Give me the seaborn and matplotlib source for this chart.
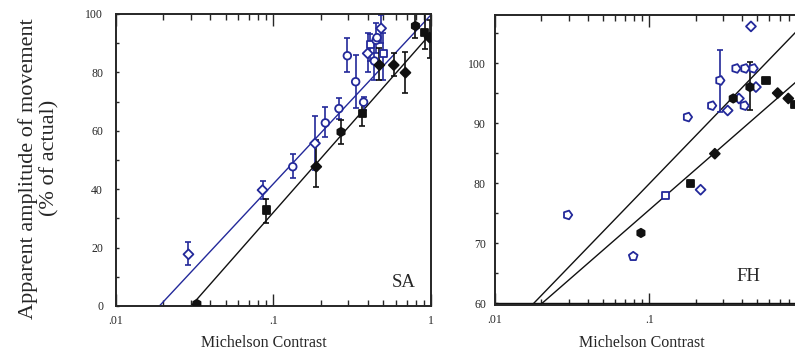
import numpy as np
import pandas as pd
import matplotlib
matplotlib.use("Agg")
import matplotlib.pyplot as plt
from matplotlib.markers import MarkerStyle
from matplotlib.transforms import Affine2D
from matplotlib.ticker import FixedLocator, FuncFormatter, MultipleLocator
import seaborn as sns

# ─── Data: SA panel ───────────────────────────────────────────────────────────
sa_open_x = [0.029, 0.0855, 0.133, 0.184, 0.214, 0.261, 0.295, 0.333, 0.374,
             0.397, 0.413, 0.438, 0.449, 0.455, 0.483, 0.498]
sa_open_y = [17.7, 39.7, 47.7, 55.7, 62.7, 67.6, 85.7, 76.8, 69.8,
             86.5, 89.6, 83.9, 91.0, 91.9, 95.1, 86.5]
sa_open_top = [22.0, 42.8, 52.0, 65.0, 68.0, 71.3, 91.9, 85.9, 71.7,
               93.6, 93.0, 90.5, 96.8, np.nan, 99.7, 93.5]
sa_open_bot = [14.0, 36.5, 44.0, 46.6, 58.0, 64.0, 80.2, 67.9, 67.0,
               80.2, 84.0, 77.4, 86.5, np.nan, 90.0, 77.4]
sa_open_shape = ["diamond", "diamond", "circle", "diamond", "circle", "circle",
                 "circle", "circle", "circle", "diamond", "square", "circle",
                 "circle", "circle", "diamond", "square"]

sa_fill_x = [0.0328, 0.0904, 0.1875, 0.269, 0.366, 0.471, 0.581, 0.689,
             0.797, 0.91, 0.98]
sa_fill_y = [0.7, 32.9, 47.7, 59.6, 65.8, 82.5, 82.5, 79.9, 95.9, 93.7, 91.9]
sa_fill_top = [np.nan, 36.6, 56.8, 63.7, 69.4, 88.3, 86.5, 87.1, 100.0, 100.0, 98.0]
sa_fill_bot = [np.nan, 28.5, 40.9, 55.5, 61.6, 77.4, 78.8, 72.8, 91.8, 87.9, 84.8]
sa_fill_shape = ["hexagon", "square", "diamond", "hexagon", "square", "diamond",
                 "diamond", "diamond", "hexagon", "square", "diamond"]

# fitted lines: y = intercept + slope * log10(contrast)
sa_open_fit = (99.7, 57.9)
sa_fill_fit = (93.4, 61.4)

# ─── Data: FH panel ───────────────────────────────────────────────────────────
fh_open_x = [0.0296, 0.0787, 0.1276, 0.177, 0.215, 0.254, 0.287, 0.322,
             0.365, 0.381, 0.417, 0.413, 0.456, 0.472, 0.491]
fh_open_y = [74.7, 67.8, 77.9, 91.0, 78.9, 92.9, 97.1, 92.1,
             99.1, 94.1, 99.1, 92.9, 106.1, 99.1, 96.0]
fh_open_top = [np.nan] * 6 + [102.2] + [np.nan] * 8
fh_open_bot = [np.nan] * 6 + [91.9] + [np.nan] * 8
fh_open_shape = ["house", "house_up", "square", "house", "diamond", "house",
                 "house", "diamond", "house", "diamond", "house", "house",
                 "diamond", "house", "diamond"]

fh_fill_x = [0.0883, 0.186, 0.266, 0.35, 0.449, 0.570, 0.679, 0.796, 0.879]
fh_fill_y = [71.7, 80.0, 84.9, 94.1, 96.0, 97.1, 95.0, 94.1, 93.1]
fh_fill_top = [np.nan] * 4 + [100.1] + [np.nan] * 4
fh_fill_bot = [np.nan] * 4 + [92.1] + [np.nan] * 4
fh_fill_shape = ["hexagon", "square", "diamond", "hexagon", "hexagon",
                 "square", "diamond", "diamond", "square"]

fh_fit_upper = (106.5, 26.6)
fh_fit_lower = (97.95, 22.4)

# ─── Style ────────────────────────────────────────────────────────────────────
BLUE = "#23299a"
BLACK = "#111111"
sns.set_style("ticks")
plt.rcParams["font.family"] = ["Liberation Serif", "DejaVu Serif"]

MARKERS = {
    "circle": "o",
    "square": MarkerStyle("s", transform=Affine2D().scale(0.95)),
    "diamond": MarkerStyle("D", transform=Affine2D().scale(0.92)),
    "hexagon": MarkerStyle("h", transform=Affine2D().scale(1.1)),
    "house": MarkerStyle("p", transform=Affine2D().rotate_deg(-90).scale(1.2)),
    "house_up": MarkerStyle("p", transform=Affine2D().scale(1.2)),
}


def draw_series(ax, x, y, top, bot, shape, color, filled):
    df = pd.DataFrame({"x": x, "y": y, "top": top, "bot": bot, "shape": shape})
    eb = df.dropna(subset=["top"])
    ax.errorbar(eb["x"], eb["y"], yerr=[eb["y"] - eb["bot"], eb["top"] - eb["y"]],
                fmt="none", ecolor=color, elinewidth=1.2, capsize=2.2,
                capthick=1.2, zorder=2)
    used = {k: MARKERS[k] for k in df["shape"].unique()}
    sns.scatterplot(data=df, x="x", y="y", style="shape", markers=used,
                    s=30,
                    facecolor=color if filled else "white",
                    edgecolor=color, linewidth=1.3, legend=False,
                    zorder=3, ax=ax)


def draw_fit(ax, fit, color):
    xs = np.logspace(-2, 0, 200)
    ax.plot(xs, fit[0] + fit[1] * np.log10(xs), color=color, lw=1.0, zorder=1)


def style_axes(ax, ypad, labels):
    ax.set_xscale("log")
    ax.set_xlim(0.01, 1)
    major = [0.01, 0.1, 1]
    minor = [m * d for d in (0.01, 0.1) for m in range(2, 10)]
    ax.xaxis.set_major_locator(FixedLocator(major))
    ax.xaxis.set_minor_locator(FixedLocator(minor))
    ax.xaxis.set_major_formatter(FuncFormatter(
        lambda v, p: labels.get(round(v, 3), "")))
    ax.xaxis.set_minor_formatter(FuncFormatter(lambda v, p: ""))
    ax.tick_params(axis="x", which="major", direction="in", length=8.5,
                   width=1.0, top=True, labelsize=8.5, pad=6.5)
    ax.tick_params(axis="x", which="minor", direction="in", length=4.5,
                   width=1.0, top=True)
    ax.tick_params(axis="y", which="both", direction="in", length=2.5,
                   width=1.0, labelsize=8.5, pad=ypad)
    for sp in ax.spines.values():
        sp.set_linewidth(1.4)
        sp.set_visible(True)
    ax.set_xlabel("")
    ax.set_ylabel("")


fig = plt.figure(figsize=(7.95, 3.54), dpi=100)

# ─── Panel SA ─────────────────────────────────────────────────────────────────
ax1 = fig.add_axes([0.1453, 0.1356, 0.3968, 0.8249])
draw_fit(ax1, sa_open_fit, BLUE)
draw_fit(ax1, sa_fill_fit, BLACK)
draw_series(ax1, sa_open_x, sa_open_y, sa_open_top, sa_open_bot,
            sa_open_shape, BLUE, False)
draw_series(ax1, sa_fill_x, sa_fill_y, sa_fill_top, sa_fill_bot,
            sa_fill_shape, BLACK, True)
style_axes(ax1, 9.0, {0.01: ".01", 0.1: ".1", 1: "1"})
ax1.set_ylim(0, 100)
ax1.yaxis.set_major_locator(MultipleLocator(20))
ax1.yaxis.set_minor_locator(MultipleLocator(10))
ax1.text(0.95, 0.08, "SA", transform=ax1.transAxes, fontsize=13.5,
         ha="right", va="center")

# ─── Panel FH ─────────────────────────────────────────────────────────────────
ax2 = fig.add_axes([0.6226, 0.1384, 0.3882, 0.8192])
draw_fit(ax2, fh_fit_upper, BLACK)
draw_fit(ax2, fh_fit_lower, BLACK)
draw_series(ax2, fh_open_x, fh_open_y, fh_open_top, fh_open_bot,
            fh_open_shape, BLUE, False)
draw_series(ax2, fh_fill_x, fh_fill_y, fh_fill_top, fh_fill_bot,
            fh_fill_shape, BLACK, True)
style_axes(ax2, 6.5, {0.01: ".01", 0.1: ".1"})
ax2.set_ylim(59.7, 108)
ax2.axhline(60, color=BLACK, lw=1.0, zorder=1)
ax2.yaxis.set_major_locator(MultipleLocator(10))
ax2.yaxis.set_minor_locator(MultipleLocator(5))
ax2.text(0.82, 0.10, "FH", transform=ax2.transAxes, fontsize=13.5,
         ha="center", va="center")

# ─── Labels ───────────────────────────────────────────────────────────────────
fig.text(264 / 795, 1 - 343 / 354, "Michelson Contrast", ha="center",
         va="center", fontsize=11.5)
fig.text(642 / 795, 1 - 343 / 354, "Michelson Contrast", ha="center",
         va="center", fontsize=11.5)
fig.text(28 / 795, 1 - 169 / 354, "Apparent amplitude of movement",
         rotation=90, ha="center", va="center", fontsize=16)
fig.text(50 / 795, 1 - 158 / 354, "(% of actual)",
         rotation=90, ha="center", va="center", fontsize=16)

fig.savefig("out.png", dpi=100)
plt.close(fig)
